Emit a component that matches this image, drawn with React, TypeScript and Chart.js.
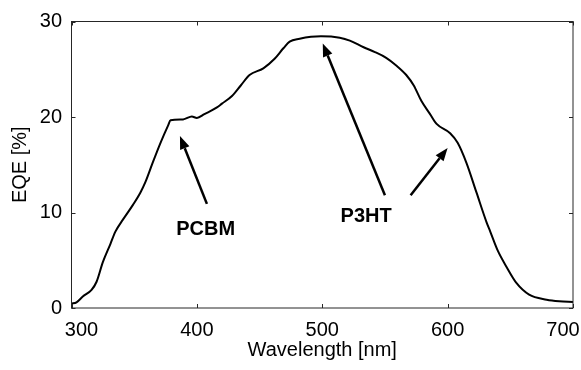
import React, { useEffect, useRef } from 'react';
import { Chart, registerables } from 'chart.js';

Chart.register(...registerables);

const wavelength = [300, 304, 309, 316, 320, 325, 331, 335, 341, 349, 355, 359, 365, 371, 377, 379, 389, 396, 400, 406, 416, 420, 428, 435, 442, 453, 462, 469, 474, 482, 491, 499, 514, 522, 533, 542, 551, 559, 567, 573, 579, 586, 591, 602, 608, 615, 623, 631, 634, 640, 647, 655, 665, 679, 689, 700];
const eqe = [0.45, 0.6, 1.2, 1.9, 2.75, 4.8, 6.7, 8.0, 9.25, 10.8, 12.1, 13.2, 15.3, 17.3, 19.1, 19.65, 19.75, 20.05, 19.9, 20.3, 21.0, 21.4, 22.2, 23.3, 24.4, 25.1, 26.1, 27.2, 27.9, 28.2, 28.4, 28.45, 28.3, 28.0, 27.3, 26.8, 26.2, 25.4, 24.4, 23.3, 21.7, 20.3, 19.3, 18.3, 17.3, 15.2, 12.1, 9.0, 8.0, 6.0, 4.3, 2.6, 1.4, 0.87, 0.7, 0.63];

const xTicks = [300, 400, 500, 600, 700];
const yTicks = [0, 10, 20, 30];
const xTitle = 'Wavelength [nm]';
const yTitle = 'EQE [%]';

const annotationLabels = ['PCBM', 'P3HT'];
const labelX = [407, 535];
const labelY = [8.2, 9.6];

const arrowFromX = [408, 550, 570.5];
const arrowFromY = [10.9, 11.8, 11.8];
const arrowToX = [386.5, 500.4, 600];
const arrowToY = [18.0, 27.7, 16.75];

const FONT = "'Liberation Sans', Arial, Helvetica, sans-serif";

const framePlugin = {
  id: 'frame',
  afterDraw(chart: any) {
    const { ctx, chartArea: a, scales } = chart;
    const x = scales.x;
    const y = scales.y;
    ctx.save();
    ctx.strokeStyle = '#262626';
    ctx.lineWidth = 1;
    ctx.strokeRect(a.left, a.top, a.right - a.left, a.bottom - a.top);
    const tl = 4;
    ctx.beginPath();
    xTicks.forEach((v) => {
      const px = Math.round(x.getPixelForValue(v)) + 0.5;
      ctx.moveTo(px, a.bottom);
      ctx.lineTo(px, a.bottom - tl);
      ctx.moveTo(px, a.top);
      ctx.lineTo(px, a.top + tl);
    });
    yTicks.forEach((v) => {
      const py = Math.round(y.getPixelForValue(v)) + 0.5;
      ctx.moveTo(a.left, py);
      ctx.lineTo(a.left + tl, py);
      ctx.moveTo(a.right, py);
      ctx.lineTo(a.right - tl, py);
    });
    ctx.stroke();

    // x tick labels (end labels pulled inward as in the reference)
    ctx.fillStyle = '#000';
    ctx.font = `20px ${FONT}`;
    ctx.textAlign = 'center';
    ctx.textBaseline = 'alphabetic';
    xTicks.forEach((v, i) => {
      let px = x.getPixelForValue(v);
      if (i === 0) px += 10;
      if (i === xTicks.length - 1) px -= 10;
      ctx.fillText(String(v), px, a.bottom + 27.5);
    });

    // arrows
    ctx.strokeStyle = '#000';
    ctx.fillStyle = '#000';
    ctx.lineWidth = 2.5;
    for (let i = 0; i < arrowFromX.length; i++) {
      const x0 = x.getPixelForValue(arrowFromX[i]);
      const y0 = y.getPixelForValue(arrowFromY[i]);
      const x1 = x.getPixelForValue(arrowToX[i]);
      const y1 = y.getPixelForValue(arrowToY[i]);
      const ang = Math.atan2(y1 - y0, x1 - x0);
      const hl = 13;
      const hw = 5;
      const bx = x1 - hl * Math.cos(ang);
      const by = y1 - hl * Math.sin(ang);
      ctx.beginPath();
      ctx.moveTo(x0, y0);
      ctx.lineTo(bx, by);
      ctx.stroke();
      ctx.beginPath();
      ctx.moveTo(x1, y1);
      ctx.lineTo(bx + hw * Math.sin(ang), by - hw * Math.cos(ang));
      ctx.lineTo(bx - hw * Math.sin(ang), by + hw * Math.cos(ang));
      ctx.closePath();
      ctx.fill();
    }

    // annotation labels
    ctx.font = `bold 20px ${FONT}`;
    ctx.textAlign = 'center';
    ctx.textBaseline = 'middle';
    annotationLabels.forEach((t, i) => {
      ctx.fillText(t, x.getPixelForValue(labelX[i]), y.getPixelForValue(labelY[i]));
    });
    ctx.restore();
  },
};

export default function App() {
  const ref = useRef<HTMLCanvasElement | null>(null);
  useEffect(() => {
    if (!ref.current) return;
    const chart = new Chart(ref.current, {
      type: 'line',
      data: {
        datasets: [
          {
            data: wavelength.map((w, i) => ({ x: w, y: eqe[i] })),
            borderColor: '#000',
            borderWidth: 2,
            pointRadius: 0,
            fill: false,
            tension: 0.4,
            cubicInterpolationMode: 'monotone',
          },
        ],
      },
      options: {
        animation: false,
        responsive: true,
        maintainAspectRatio: false,
        layout: { padding: { top: 16, right: 8, left: 0, bottom: 0 } },
        plugins: { legend: { display: false }, tooltip: { enabled: false } },
        scales: {
          x: {
            type: 'linear',
            min: 300,
            max: 700,
            afterFit: (s: any) => {
              s.height = 62;
            },
            afterBuildTicks: (s: any) => {
              s.ticks = xTicks.map((v) => ({ value: v }));
            },
            grid: { display: false, drawTicks: false },
            border: { display: false },
            ticks: { display: false },
            title: {
              display: true,
              text: xTitle,
              color: '#000',
              font: { family: FONT, size: 20 },
              padding: 8,
            },
          },
          y: {
            type: 'linear',
            min: 0,
            max: 30,
            afterFit: (s: any) => {
              s.width = 71.5;
            },
            afterBuildTicks: (s: any) => {
              s.ticks = yTicks.map((v) => ({ value: v }));
            },
            grid: { display: false, drawTicks: false },
            border: { display: false },
            ticks: {
              color: '#000',
              font: { family: FONT, size: 20 },
              padding: 9.5,
            },
            title: {
              display: true,
              text: yTitle,
              color: '#000',
              font: { family: FONT, size: 20 },
              padding: 8,
            },
          },
        },
      },
      plugins: [framePlugin],
    });
    return () => chart.destroy();
  }, []);
  return (
    <div style={{ position: 'fixed', left: 0, top: 0, width: 581, height: 370, background: '#fff' }}>
      <canvas ref={ref} />
    </div>
  );
}
